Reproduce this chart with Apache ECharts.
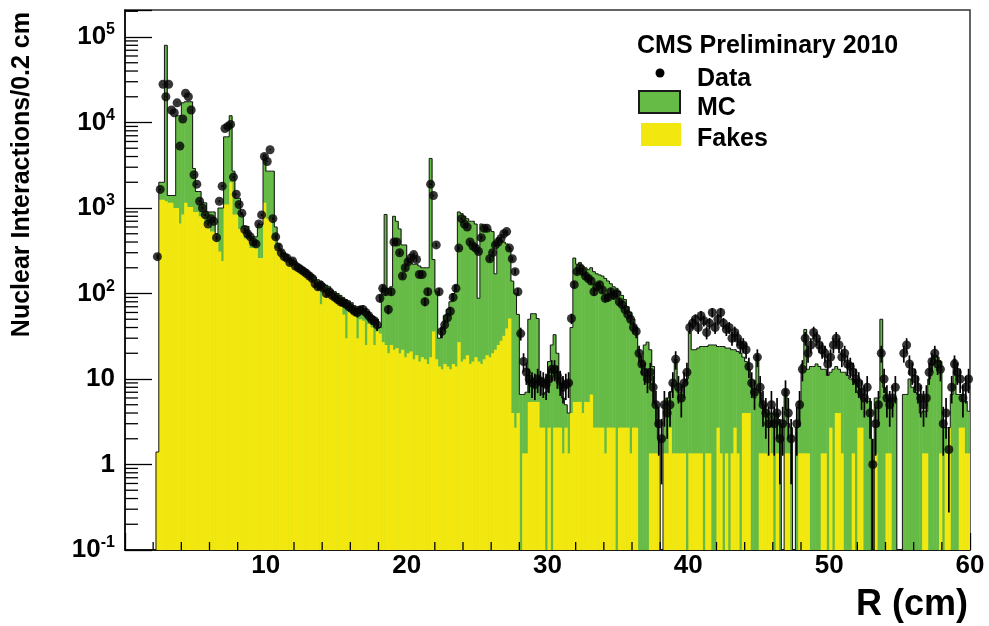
<!DOCTYPE html>
<html><head><meta charset="utf-8">
<script src="https://cdn.jsdelivr.net/npm/echarts@6/dist/echarts.min.js"></script>
<style>html,body{margin:0;padding:0;background:#fff}#c{width:989px;height:626px}</style>
</head><body><div id="c"></div>
<script>
// Histogram bins: 0.2 cm wide, first lower edge 2.2 cm
const binStart = 2.2, binWidth = 0.2;

// Fakes (yellow)
const fakes = [
  1.4, 1250, 1250, 1200,               // 2.2-2.8
  1150, 1150, 1000, 1000, 660,          // 3
  840, 1150, 1030, 1030, 900,           // 4
  900, 800, 800, 660, 660,              // 5
  530, 530, 400, 310, 240,              // 6
  1100, 1100, 2000, 840, 840,           // 7
  570, 570, 440, 440, 340,              // 8
  340, 340, 260, 260, 1150,             // 9
  750, 750, 440, 340, 340,              // 10
  290, 270, 250, 240, 220,              // 11
  200, 190, 180, 170, 165,              // 12
  150, 140, 135, 110, 75,               // 13
  120, 110, 100, 95, 90,                // 14
  85, 80, 57, 30, 70,                   // 15
  66, 55, 30, 50, 48,                   // 16
  25, 44, 40, 25, 36,                   // 17
  34, 27, 25, 20, 25,                   // 18
  22, 23, 20, 22, 18,                   // 19
  20, 21, 17, 19, 16,                   // 20
  18, 17, 15, 18, 36,                   // 21
  17, 14, 13, 15, 14,                   // 22
  13, 15, 14, 27, 16,                   // 23
  17, 19, 15, 16, 18,                   // 24
  16, 15, 17, 19, 18,                   // 25
  20, 22, 25, 28, 32,                   // 26
  39, 51, 4, 2.7, 4,                    // 27
  0, 1.35, 1.35, 5.4, 5.4,              // 28
  5.4, 5.4, 2.7, 2.7, 0,                // 29
  2.7, 0, 2.7, 2.7, 2.7,                // 30
  1.35, 2.7, 1.35, 4, 5.4,              // 31
  5.4, 5.4, 4, 5.4, 5.4,                // 32
  6.6, 2.7, 2.7, 2.7, 2.7,              // 33
  1.35, 2.7, 2.7, 2.7, 0,               // 34
  2.7, 2.7, 2.7, 2.7, 1.35,             // 35
  2.7, 2.7, 0, 0, 0,                    // 36
  0, 1.35, 1.35, 1.35, 1.35,            // 37
  0, 1.35, 1.35, 2.7, 1.35,             // 38
  1.35, 1.35, 1.35, 1.35, 0,            // 39
  1.35, 1.35, 1.35, 1.35, 1.35,         // 40
  0, 1.35, 1.35, 0, 0,                  // 41
  2.7, 1.35, 0, 1.35, 0,                // 42
  1.35, 2.7, 1.35, 0, 4,                // 43
  4, 4, 0, 0, 0,                        // 44
  1.35, 1.35, 1.35, 2.7, 1.35,          // 45
  0, 1.35, 0, 0, 1.35,                  // 46
  1.35, 0, 0, 0, 1.35,                  // 47
  1.35, 1.35, 1.35, 0, 0,               // 48
  0, 0, 1.35, 1.35, 0,                  // 49
  2.7, 0, 4, 4, 1.35,                   // 50
  0, 0, 0, 1.35, 0,                     // 51
  2.7, 2.7, 0, 0, 0,                    // 52
  0, 1.35, 0, 0, 0,                     // 53
  1.35, 1.35, 0, 0, 0,                  // 54
  0, 0, 0, 0, 0,                        // 55
  0, 0, 0, 1.35, 1.35,                  // 56
  0, 0, 0, 0, 1.35,                     // 57
  0, 1.35, 2.7, 0, 0,                   // 58
  0, 2.7, 2.7, 1.35, 1.35               // 59
];

// MC total (green)
const mc = [
  1.4, 2000, 2000, 80000,               // 2.2-2.8
  1400, 1400, 1400, 12000, 12000,       // 3
  17000, 17500, 17500, 17500, 2900,     // 4
  1560, 1560, 1150, 1150, 900,          // 5
  900, 900, 500, 1000, 1000,            // 6
  6800, 6800, 12000, 2700, 1300,        // 7
  1300, 840, 610, 610, 460,             // 8
  460, 460, 640, 640, 4200,             // 9
  2700, 2700, 2700, 600, 380,           // 10
  320, 300, 280, 260, 250,              // 11
  240, 220, 210, 200, 190,              // 12
  175, 165, 155, 145, 140,              // 13
  130, 125, 120, 110, 105,              // 14
  100, 95, 90, 85, 82,                  // 15
  78, 72, 70, 68, 65,                   // 16
  62, 60, 56, 52, 50,                   // 17
  40, 115, 840, 115, 120,               // 18
  800, 700, 570, 370, 370,              // 19
  240, 230, 220, 220, 210,              // 20
  200, 200, 200, 3800, 250,             // 21
  105, 30, 40, 55, 65,                  // 22
  80, 100, 125, 900, 860,               // 23
  800, 750, 700, 700, 650,              // 24
  88, 650, 600, 580, 560,               // 25
  530, 170, 450, 420, 400,              // 26
  380, 340, 140, 100, 57,               // 27
  6.6, 6.6, 7, 50, 58,                  // 28
  58, 51, 9, 6.6, 7,                    // 29
  16, 25, 33, 20, 9,                    // 30
  6, 5, 4, 40, 260,                     // 31
  220, 230, 210, 200, 190,              // 32
  200, 180, 170, 165, 160,              // 33
  150, 140, 130, 120, 115,              // 34
  105, 95, 85, 70, 60,                  // 35
  50, 40, 20, 14, 25,                   // 36
  27, 22, 14, 5, 2,                     // 37
  0, 5, 6, 7, 9,                        // 38
  17, 7, 7, 9, 10,                      // 39
  36, 22, 22, 23, 24,                   // 40
  24, 24, 25, 25, 25,                   // 41
  24, 24, 24, 23, 23,                   // 42
  22, 22, 21, 20, 18,                   // 43
  16, 13, 8, 6, 19,                     // 44
  7, 5, 4, 3.5, 4,                      // 45
  3, 4, 3, 0, 7.5,                      // 46
  3, 2.7, 0, 2.7, 5.5,                  // 47
  15, 38, 13, 14, 14,                   // 48
  15, 14, 13, 13, 11,                   // 49
  12, 13, 14, 13, 12,                   // 50
  12, 11, 10, 10, 9,                    // 51
  8, 6, 6, 5.5, 5.5,                    // 52
  0, 6, 6, 50, 8,                       // 53
  6, 5.5, 6, 6, 0,                      // 54
  0, 6.6, 6.6, 10, 8,                   // 55
  7, 6.6, 4, 4.2, 4.2,                  // 56
  10, 17, 19, 18, 16,                   // 57
  2.7, 2.7, 2.7, 6.6, 17,               // 58
  6.6, 6.6, 5.5, 5.5, 4.2               // 59
];

// Data (points)
const data = [
  270, 1650, 28000, 20000,              // 2.2-2.8
  28000, 14000, 13000, 17000, 5300,     // 3
  11000, 22000, 20000, 14000, 2450,     // 4
  1900, 1200, 1000, 830, 650,           // 5
  750, 700, 450, 1200, 1800,            // 6
  8500, 9000, 9500, 2300, 1450,         // 7
  1100, 870, 560, 500, 460,             // 8
  400, 380, 650, 830, 4000,             // 9
  3500, 4800, 750, 460, 350,            // 10
  300, 270, 260, 230, 240,              // 11
  210, 200, 190, 180, 170,              // 12
  160, 150, 130, 120, 125,              // 13
  115, 100, 105, 95, 90,                // 14
  85, 80, 78, 75, 70,                   // 15
  66, 62, 60, 64, 65,                   // 16
  60, 55, 50, 48, 43,                   // 17
  88, 115, 105, 65, 105,                // 18
  400, 400, 300, 160, 200,              // 19
  235, 260, 285, 250, 167,              // 20
  167, 80, 105, 1900, 1400,             // 21
  370, 105, 36, 43, 52,                 // 22
  62, 90, 115, 340, 750,                // 23
  650, 600, 400, 360, 340,              // 24
  310, 450, 580, 580, 255,              // 25
  300, 370, 400, 440, 500,              // 26
  530, 340, 255, 180, 105,              // 27
  34, 16, 12, 10, 9,                    // 28
  8.6, 10, 9.4, 9, 8.6,                 // 29
  10, 13, 13, 11, 9.4,                  // 30
  8, 8.6, 9, 51, 127,                   // 31
  180, 200, 180, 160, 150,              // 32
  140, 105, 120, 127, 110,              // 33
  88, 90, 105, 95, 100,                 // 34
  80, 74, 65, 57, 50,                   // 35
  40, 36, 20, 15, 12,                   // 36
  10, 12, 8, 5, 3,                      // 37
  2, 5, 4, 5, 9,                        // 38
  17, 8, 6, 9, 12,                      // 39
  40, 45, 50, 40, 55,                   // 40
  48, 35, 45, 60, 40,                   // 41
  50, 60, 45, 38, 40,                   // 42
  30, 35, 30, 25, 25,                   // 43
  22, 14, 9, 7, 18,                     // 44
  8, 5, 4, 3, 5,                        // 45
  3, 4, 2, 3, 7,                        // 46
  4, 2, 0, 3, 5,                        // 47
  13, 30, 20, 25, 35,                   // 48
  30, 25, 22, 20, 15,                   // 49
  18, 25, 30, 25, 18,                   // 50
  20, 15, 14, 12, 10,                   // 51
  9, 7, 6, 8, 4,                        // 52
  1, 3, 5, 20, 10,                      // 53
  6, 5, 6, 8, 0,                        // 54
  0, 20, 25, 15, 12,                    // 55
  10, 8, 6, 5, 6,                       // 56
  12, 16, 20, 15, 13,                   // 57
  3, 4, 1.5, 8, 15,                     // 58
  12, 10, 6, 8, 10                      // 59
];

const xTickLabels = [10, 20, 30, 40, 50, 60];
const legendTitle = 'CMS Preliminary 2010';
const legendNames = ['Data', 'MC', 'Fakes'];
const yTitle = 'Nuclear Interactions/0.2 cm';
const xTitle = 'R (cm)';

const yMin = 0.1, yMax = 2.07e5, xMin = 0, xMax = 60;
const FONT = '"Liberation Sans", Arial, Helvetica, sans-serif';
const GREEN = '#66bb46', YELLOW = '#f2e810';

const edges = fakes.map((_, i) => +(binStart + i * binWidth).toFixed(2));
const binData = (arr) => arr.map((v, i) => [edges[i], +(edges[i] + binWidth).toFixed(2), v, i > 0 ? arr[i - 1] : 0]);

function fillRender(color) {
  return function (params, api) {
    const v = api.value(2);
    if (!(v > 0)) return null;
    const p0 = api.coord([api.value(0), yMin]);
    const p1 = api.coord([api.value(1), v]);
    return {
      type: 'rect',
      shape: { x: p0[0], y: p1[1], width: p1[0] - p0[0] + 0.5, height: p0[1] - p1[1] },
      style: { fill: color }
    };
  };
}
function outlineRender(params, api) {
  const lo = api.value(0), hi = api.value(1);
  const v = Math.max(api.value(2), yMin), pv = Math.max(api.value(3), yMin);
  const a = api.coord([lo, pv]), b = api.coord([lo, v]), c = api.coord([hi, v]);
  return { type: 'polyline', shape: { points: [a, b, c] }, style: { stroke: '#151515', lineWidth: 1, fill: null } };
}
function errRender(params, api) {
  const x = api.value(0), v = api.value(1);
  const e = Math.sqrt(v);
  const a = api.coord([x, Math.max(v - e, yMin)]), b = api.coord([x, v + e]);
  return { type: 'line', shape: { x1: a[0], y1: a[1], x2: b[0], y2: b[1] }, style: { stroke: '#000', lineWidth: 1.7 } };
}
const points = [];
data.forEach((v, i) => { if (v > 0) points.push([+(edges[i] + binWidth / 2).toFixed(2), v]); });

// axis decorations: log minor ticks (2..9 per decade) and x minor ticks every 2 cm
const yMinorVals = [];
for (let k = -1; k <= 5; k++) for (let m = 2; m <= 9; m++) { const v = m * Math.pow(10, k); if (v < yMax) yMinorVals.push([xMin, v]); }
const xMinorVals = [];
for (let x = 2; x < xMax; x += 2) if (x % 10 !== 0) xMinorVals.push([x, yMin]);

function yFmt(v) {
  const l = Math.log10(v), e = Math.round(l);
  if (Math.abs(l - e) > 1e-6) return '';
  if (e === 0) return '{b|1}';
  if (e === 1) return '{b|10}';
  return '{b|10}{s|' + (e < 0 ? '-' : '') + Math.abs(e) + '}';
}

const chart = echarts.init(document.getElementById('c'), null, { renderer: 'canvas' });
chart.setOption({
  animation: false,
  backgroundColor: '#fff',
  grid: { left: 125, right: 19, top: 10, bottom: 76, show: true, borderColor: '#333', borderWidth: 1.5, backgroundColor: 'transparent' },
  xAxis: {
    type: 'value', min: xMin, max: xMax, interval: 10,
    axisLine: { show: true, lineStyle: { color: '#000', width: 1.5 } },
    axisTick: { show: true, inside: true, length: 17, lineStyle: { color: '#000', width: 1.3 } },
    minorTick: { show: false },
    splitLine: { show: false },
    axisLabel: {
      margin: 3, color: '#000', fontSize: 26, fontWeight: 'bold', fontFamily: FONT,
      formatter: (v) => (xTickLabels.indexOf(v) >= 0 ? String(v) : '')
    }
  },
  yAxis: {
    type: 'log', logBase: 10, min: yMin, max: yMax, splitNumber: 6,
    axisLine: { show: true, lineStyle: { color: '#000', width: 1.5 } },
    axisTick: { show: true, inside: true, length: 27, lineStyle: { color: '#000', width: 1.3 } },
    splitLine: { show: false },
    axisLabel: {
      margin: 10, formatter: yFmt,
      rich: {
        b: { fontSize: 26, fontWeight: 'bold', fontFamily: FONT, color: '#000', lineHeight: 30 },
        s: { fontSize: 16, fontWeight: 'bold', fontFamily: FONT, color: '#000', lineHeight: 16, verticalAlign: 'top' }
      }
    }
  },
  series: [
    { type: 'custom', name: 'MC', renderItem: fillRender(GREEN), data: binData(mc), clip: true, encode: { x: [0, 1], y: 2 } },
    { type: 'custom', name: 'Fakes', renderItem: fillRender(YELLOW), data: binData(fakes), clip: true, encode: { x: [0, 1], y: 2 } },
    { type: 'custom', name: 'MC outline', renderItem: outlineRender, data: binData(mc), clip: true, encode: { x: [0, 1], y: 2 } },
    { type: 'custom', name: 'Data errors', renderItem: errRender, data: points, clip: true, encode: { x: 0, y: 1 } },
    { type: 'scatter', name: 'Data', data: points, symbol: 'circle', symbolSize: 9, itemStyle: { color: '#050505' }, clip: true },
    {
      type: 'custom', name: 'y minor ticks', data: yMinorVals, clip: false, silent: true,
      renderItem: function (params, api) {
        const p = api.coord([api.value(0), api.value(1)]);
        return { type: 'line', shape: { x1: p[0], y1: p[1], x2: p[0] + 13, y2: p[1] }, style: { stroke: '#000', lineWidth: 1.3 } };
      }
    },
    {
      type: 'custom', name: 'x minor ticks', data: xMinorVals, clip: false, silent: true,
      renderItem: function (params, api) {
        const p = api.coord([api.value(0), api.value(1)]);
        return { type: 'line', shape: { x1: p[0], y1: p[1], x2: p[0], y2: p[1] - 8 }, style: { stroke: '#000', lineWidth: 1.3 } };
      }
    }
  ],
  graphic: [
    { type: 'text', x: 22, y: 12, rotation: Math.PI / 2, style: { text: yTitle, font: 'bold 25px ' + FONT, fill: '#000', align: 'right', verticalAlign: 'middle' } },
    { type: 'text', x: 968, y: 605, style: { text: xTitle, font: 'bold 36px ' + FONT, fill: '#000', align: 'right', verticalAlign: 'middle' } },
    { type: 'text', x: 637, y: 46, style: { text: legendTitle, font: 'bold 25px ' + FONT, fill: '#000', align: 'left', verticalAlign: 'middle' } },
    { type: 'circle', shape: { cx: 660, cy: 73, r: 4.5 }, style: { fill: '#000' } },
    { type: 'text', x: 697, y: 79, style: { text: legendNames[0], font: 'bold 25px ' + FONT, fill: '#000', align: 'left', verticalAlign: 'middle' } },
    { type: 'rect', shape: { x: 639, y: 91, width: 41, height: 22 }, style: { fill: GREEN, stroke: '#1a1a1a', lineWidth: 2 } },
    { type: 'text', x: 697, y: 108, style: { text: legendNames[1], font: 'bold 25px ' + FONT, fill: '#000', align: 'left', verticalAlign: 'middle' } },
    { type: 'rect', shape: { x: 641, y: 123, width: 40, height: 23 }, style: { fill: YELLOW } },
    { type: 'text', x: 697, y: 139, style: { text: legendNames[2], font: 'bold 25px ' + FONT, fill: '#000', align: 'left', verticalAlign: 'middle' } }
  ]
});
</script>
</body></html>
